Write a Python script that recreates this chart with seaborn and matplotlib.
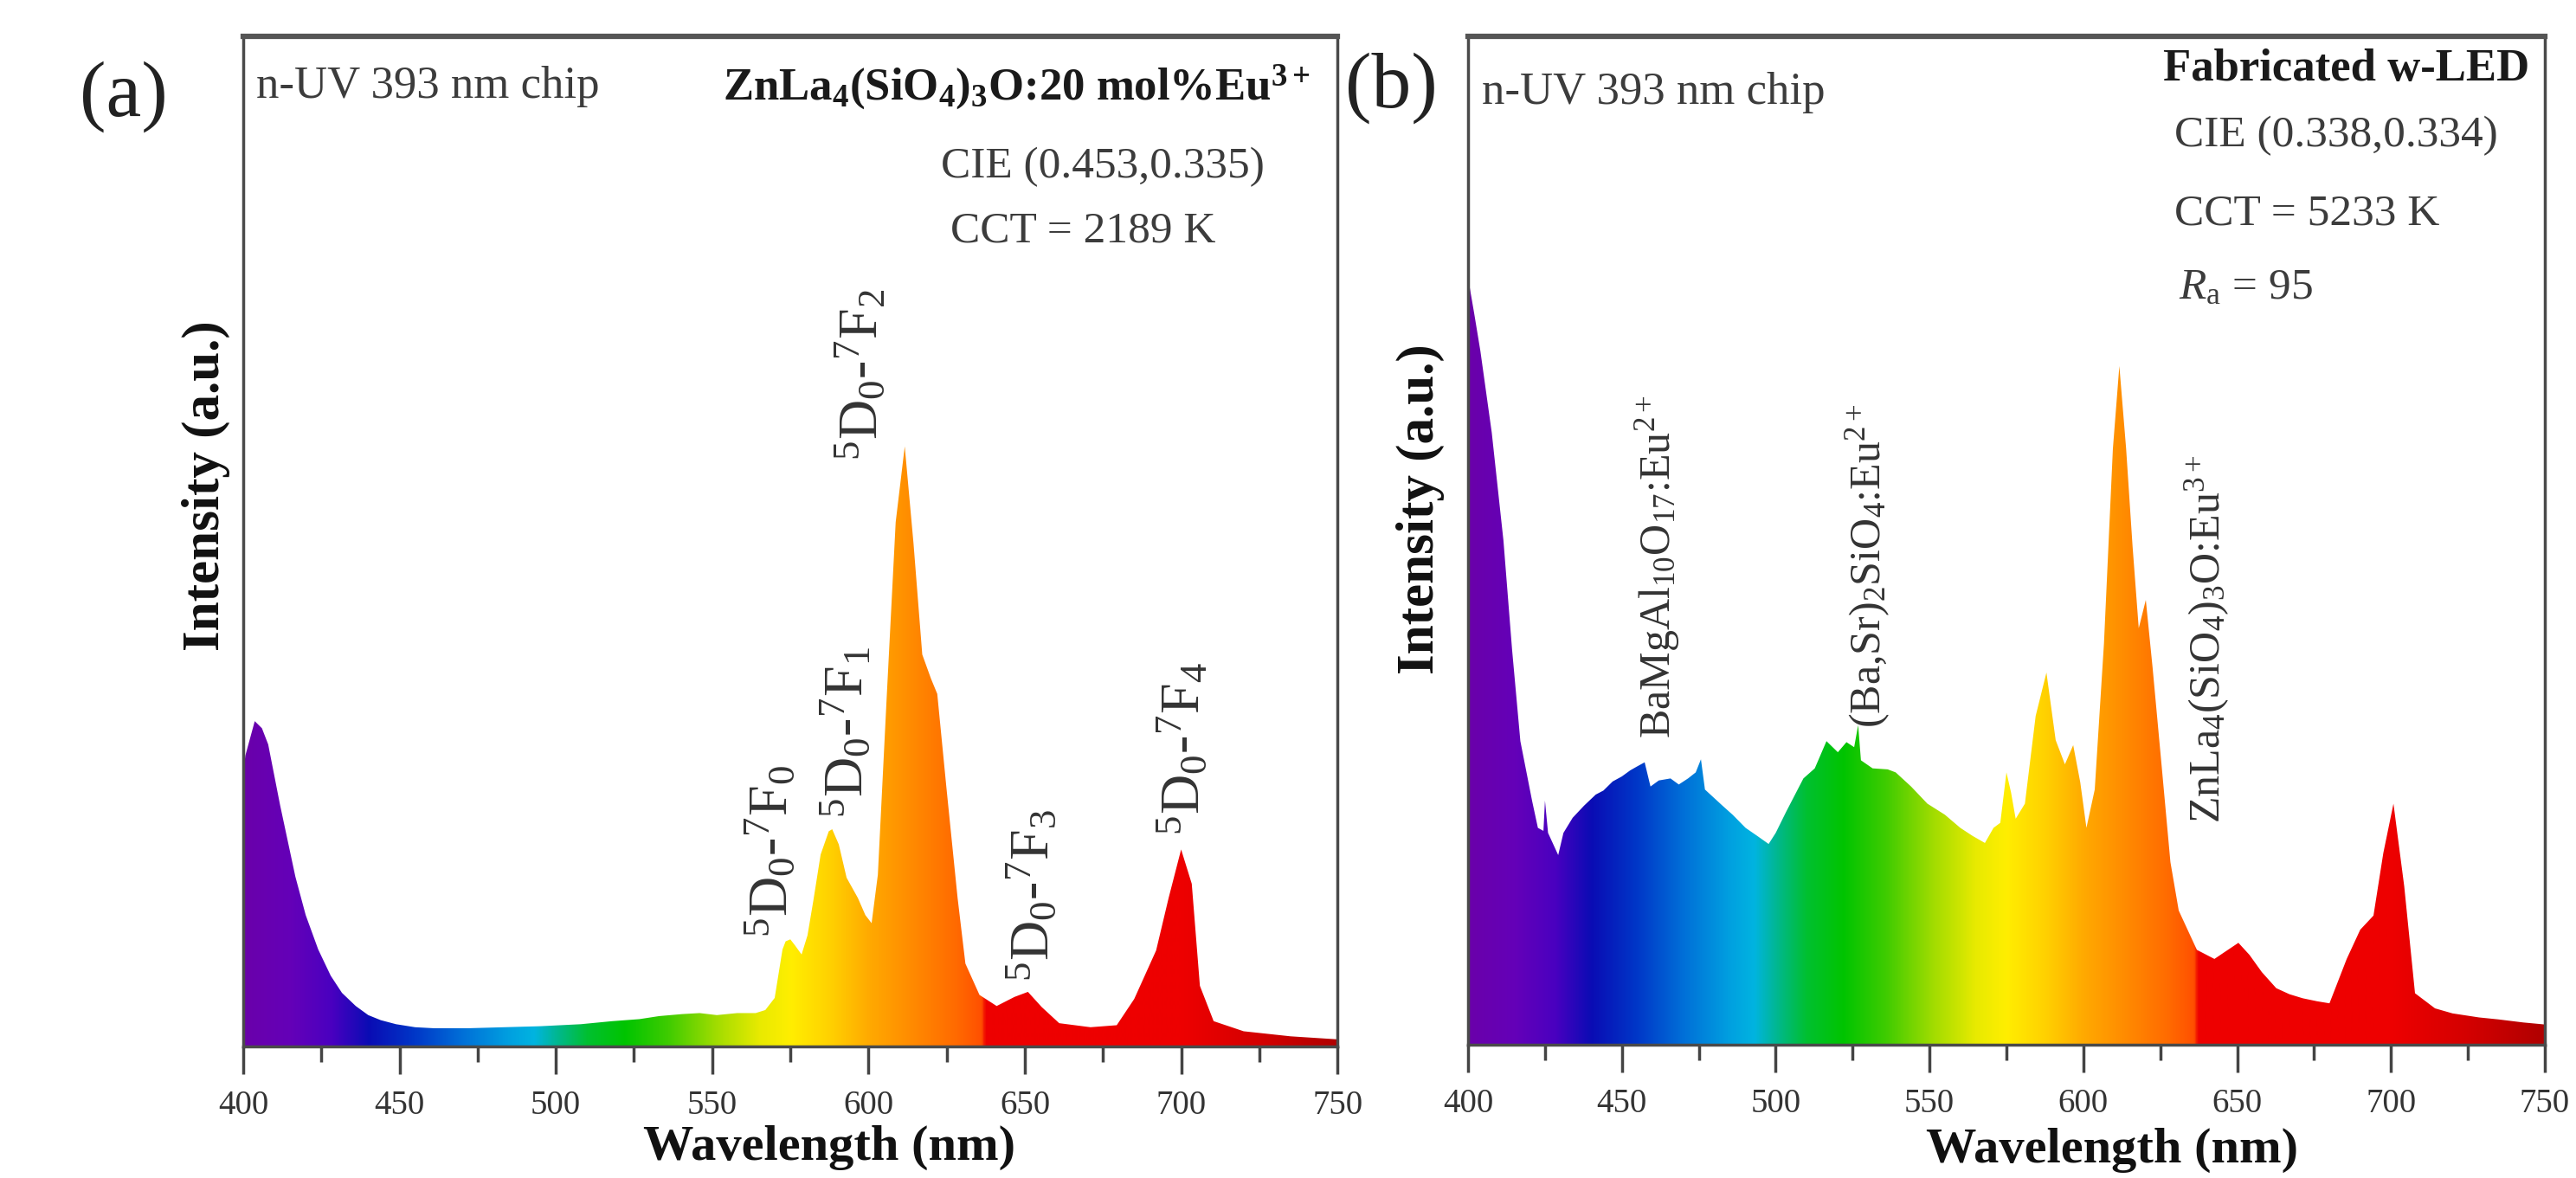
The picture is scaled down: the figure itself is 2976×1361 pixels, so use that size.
import numpy as np
import matplotlib
matplotlib.use("Agg")
import matplotlib.pyplot as plt
import seaborn as sns
from matplotlib.colors import LinearSegmentedColormap
from matplotlib.patches import PathPatch
from matplotlib.ticker import MultipleLocator

# (a) ZnLa4(SiO4)3O:20 mol%Eu3+ pc-LED spectrum
wl_a = [400, 400.7, 403.7, 406, 408, 411.8, 416.7, 420, 424, 428,
        431.6, 436, 440, 444, 448.9, 455, 461, 472, 483.5, 495,
        508, 518, 526.7, 533, 540.4, 546, 551.5, 558, 563.9, 567,
        570, 572.5, 573.5, 575, 576.5, 578.6, 580.5, 582.4, 584.7, 587.3,
        588.4, 590.5, 593, 596.6, 599, 601, 603, 605.8, 608.7, 611.6,
        614.4, 617.2, 620, 622, 624.9, 628.5, 631, 635.5, 641, 646.7,
        651, 655.4, 661, 671, 679.4, 685, 692, 696, 700, 703.4,
        706, 710.4, 720, 735, 750]
int_a = [0.27, 0.288, 0.322, 0.315, 0.299, 0.239, 0.168, 0.13, 0.096, 0.07,
         0.053, 0.04, 0.031, 0.026, 0.022, 0.019, 0.018, 0.018, 0.019, 0.02,
         0.022, 0.025, 0.027, 0.03, 0.032, 0.033, 0.031, 0.033, 0.033, 0.036,
         0.048, 0.096, 0.104, 0.106, 0.1, 0.091, 0.11, 0.145, 0.19, 0.213,
         0.215, 0.2, 0.167, 0.147, 0.13, 0.122, 0.17, 0.344, 0.519, 0.594,
         0.498, 0.388, 0.364, 0.349, 0.257, 0.147, 0.082, 0.051, 0.04, 0.049,
         0.054, 0.039, 0.023, 0.019, 0.021, 0.047, 0.095, 0.147, 0.195, 0.161,
         0.06, 0.025, 0.015, 0.01, 0.007]

# (b) fabricated w-LED spectrum
wl_b = [400, 400.2, 402, 404, 407.7, 411.5, 414.3, 417, 420.8, 422.7,
        424.5, 425, 426, 429.3, 431, 434, 437.7, 441.5, 444, 447,
        450, 452.7, 455, 457.4, 459.3, 462, 465.8, 468.5, 471.5, 474,
        475.7, 477, 482.7, 486, 490.2, 494, 497.7, 500, 503.4, 509,
        512.7, 516.5, 520.2, 523, 525.5, 526.8, 527.7, 531.5, 536.4, 539,
        544, 549.3, 555, 560, 564, 568, 570.8, 573, 575, 576.5,
        578, 581, 584.5, 588, 591, 594, 596.7, 599, 601, 603.7,
        606.7, 609.6, 611.7, 613.9, 616, 618, 620.3, 622.5, 625.4, 628.3,
        631, 636.9, 642.6, 646, 650.4, 654, 658, 662.7, 667, 671.3,
        676, 680, 685.6, 690, 694.3, 697.5, 700.8, 704.3, 707.8, 714.3,
        720, 728.6, 735, 743, 750]
int_b = [0.74, 0.757, 0.725, 0.688, 0.607, 0.5, 0.392, 0.301, 0.242, 0.215,
         0.212, 0.242, 0.21, 0.188, 0.21, 0.225, 0.237, 0.248, 0.252, 0.261,
         0.266, 0.272, 0.276, 0.28, 0.256, 0.262, 0.264, 0.258, 0.264, 0.27,
         0.283, 0.253, 0.237, 0.228, 0.215, 0.207, 0.199, 0.21, 0.231, 0.264,
         0.274, 0.301, 0.29, 0.3, 0.295, 0.317, 0.282, 0.274, 0.273, 0.27,
         0.256, 0.239, 0.228, 0.215, 0.207, 0.2, 0.215, 0.22, 0.27, 0.25,
         0.224, 0.239, 0.326, 0.369, 0.302, 0.278, 0.297, 0.26, 0.215, 0.253,
         0.398, 0.591, 0.673, 0.591, 0.494, 0.413, 0.441, 0.374, 0.278, 0.181,
         0.133, 0.094, 0.085, 0.092, 0.101, 0.089, 0.072, 0.056, 0.05, 0.046,
         0.043, 0.041, 0.085, 0.114, 0.128, 0.19, 0.239, 0.157, 0.051, 0.036,
         0.031, 0.027, 0.025, 0.022, 0.02]

# transition labels for (a): x position, bottom intensity
peaks_a = ["0", "1", "2", "3", "4"]
peak_x_a = [569.4, 593.3, 598, 653, 701]
peak_y_a = [0.108, 0.226, 0.58, 0.064, 0.209]

# phosphor labels for (b)
phos_b = [r"BaMgAl$_{10}$O$_{17}$:Eu$^{2+}$",
          r"(Ba,Sr)$_2$SiO$_4$:Eu$^{2+}$",
          r"ZnLa$_4$(SiO$_4$)$_3$O:Eu$^{3+}$"]
phos_x_b = [461.6, 530, 640.3]
phos_y_b = [0.304, 0.314, 0.22]

# wavelength -> colour stops for the rainbow fill
spec_wl = [400, 415, 428, 440, 455, 470, 485, 493, 501, 510, 522, 536, 551,
           565, 575, 588, 600, 615, 628, 636, 637.5, 700, 725, 750]
spec_col = ['#6a00aa', '#6400b8', '#4a00c0', '#0a0cb4', '#0038c8', '#0070d8',
            '#00a0e0', '#00b4e0', '#00b888', '#00c030', '#00c400', '#40cc00',
            '#a0dc00', '#e8ea00', '#ffee00', '#ffd000', '#ffaa00', '#ff8800',
            '#ff6a00', '#ff5000', '#ee0000', '#ee0000', '#d40000', '#b00000']
spec_cmap = LinearSegmentedColormap.from_list(
    "spec", [((w - 400) / 350, c) for w, c in zip(spec_wl, spec_col)], N=1024)

sns.set_theme(style="ticks")
plt.rcParams['font.family'] = ['Liberation Serif', 'DejaVu Serif']
plt.rcParams['mathtext.fontset'] = 'custom'
plt.rcParams['mathtext.rm'] = 'Liberation Serif'
plt.rcParams['mathtext.it'] = 'Liberation Serif:italic'
plt.rcParams['mathtext.bf'] = 'Liberation Serif:bold'

gray = '#3c3c3c'


def rainbow_fill(ax, wl, inten):
    sns.lineplot(x=wl, y=inten, ax=ax, lw=0, legend=False)
    poly = ax.fill_between(wl, 0, inten, color='none', lw=0)
    clip = PathPatch(poly.get_paths()[0], transform=ax.transData,
                     facecolor='none', edgecolor='none')
    ax.add_patch(clip)
    grad = np.linspace(400, 750, 1400).reshape(1, -1)
    im = ax.imshow(grad, extent=[400, 750, 0, 1], aspect='auto', cmap=spec_cmap,
                   vmin=400, vmax=750, origin='lower', zorder=1,
                   interpolation='bilinear')
    im.set_clip_path(clip)


def style_axis(ax, xl_pos, yl_pos):
    ax.set_xlim(400, 750)
    ax.set_ylim(0, 1)
    ax.set_yticks([])
    ax.xaxis.set_major_locator(MultipleLocator(50))
    ax.xaxis.set_minor_locator(MultipleLocator(25))
    ax.tick_params(axis='x', which='major', direction='out', length=23, width=2.5,
                   color='#444444', labelsize=28, labelcolor='#333333', pad=13)
    ax.tick_params(axis='x', which='minor', direction='out', length=13, width=2.5,
                   color='#444444')
    for side in ['left', 'right', 'bottom']:
        ax.spines[side].set_linewidth(2.5)
        ax.spines[side].set_color('#4a4a4a')
    ax.spines['top'].set_linewidth(4.5)
    ax.spines['top'].set_color('#555555')
    ax.set_xlabel("Wavelength (nm)", fontsize=42, fontweight='bold', color='#111111')
    ax.set_ylabel("Intensity (a.u.)", fontsize=44, fontweight='bold', color='#111111')
    ax.xaxis.set_label_coords(*xl_pos)
    ax.yaxis.set_label_coords(*yl_pos)


fig = plt.figure(figsize=(29.76, 13.61), dpi=100)
ax_a = fig.add_axes([0.0944, 0.1117, 0.4248, 0.8575])
ax_b = fig.add_axes([0.5699, 0.1132, 0.418, 0.856])

# panel (a)
rainbow_fill(ax_a, wl_a, int_a)
style_axis(ax_a, (0.536, -0.078), (-0.012, 0.555))
ax_a.text(0.012, 0.95, "n-UV 393 nm chip", transform=ax_a.transAxes,
          ha='left', va='center', fontsize=38, color=gray)
ax_a.text(0.975, 0.95,
          r"ZnLa$_\mathbf{4}$(SiO$_\mathbf{4}$)$_\mathbf{3}$O:20 mol%Eu$^\mathbf{3+}$",
          transform=ax_a.transAxes, ha='right', va='center', fontsize=38,
          fontweight='bold', color='#1a1a1a')
ax_a.text(0.638, 0.871, "CIE (0.453,0.335)", transform=ax_a.transAxes,
          ha='left', va='center', fontsize=37, color=gray)
ax_a.text(0.646, 0.807, "CCT = 2189 K", transform=ax_a.transAxes,
          ha='left', va='center', fontsize=37, color=gray)
for lab, x, y in zip(peaks_a, peak_x_a, peak_y_a):
    ax_a.text(x, y, r"$^5$D$_0$-$^7$F$_%s$" % lab, rotation=90,
              rotation_mode='anchor', ha='left', va='center', fontsize=46,
              color='#333333', zorder=3)

# panel (b)
rainbow_fill(ax_b, wl_b, int_b)
style_axis(ax_b, (0.598, -0.082), (-0.022, 0.531))
ax_b.text(0.013, 0.944, "n-UV 393 nm chip", transform=ax_b.transAxes,
          ha='left', va='center', fontsize=38, color=gray)
ax_b.text(0.9855, 0.967, "Fabricated w-LED", transform=ax_b.transAxes,
          ha='right', va='center', fontsize=38, fontweight='bold', color='#1a1a1a')
ax_b.text(0.656, 0.901, "CIE (0.338,0.334)", transform=ax_b.transAxes,
          ha='left', va='center', fontsize=37, color=gray)
ax_b.text(0.656, 0.824, "CCT = 5233 K", transform=ax_b.transAxes,
          ha='left', va='center', fontsize=37, color=gray)
ax_b.text(0.660, 0.750, r"$R_\mathrm{a}$ = 95", transform=ax_b.transAxes,
          ha='left', va='center', fontsize=37, color=gray)
for lab, x, y in zip(phos_b, phos_x_b, phos_y_b):
    ax_b.text(x, y, lab, rotation=90, rotation_mode='anchor', ha='left',
              va='center', fontsize=36, color='#333333', zorder=3)

fig.text(0.048, 0.918, "(a)", ha='center', va='center', fontsize=66, color='#222222')
fig.text(0.540, 0.925, "(b)", ha='center', va='center', fontsize=66, color='#222222')

fig.savefig("out.png", dpi=100)
